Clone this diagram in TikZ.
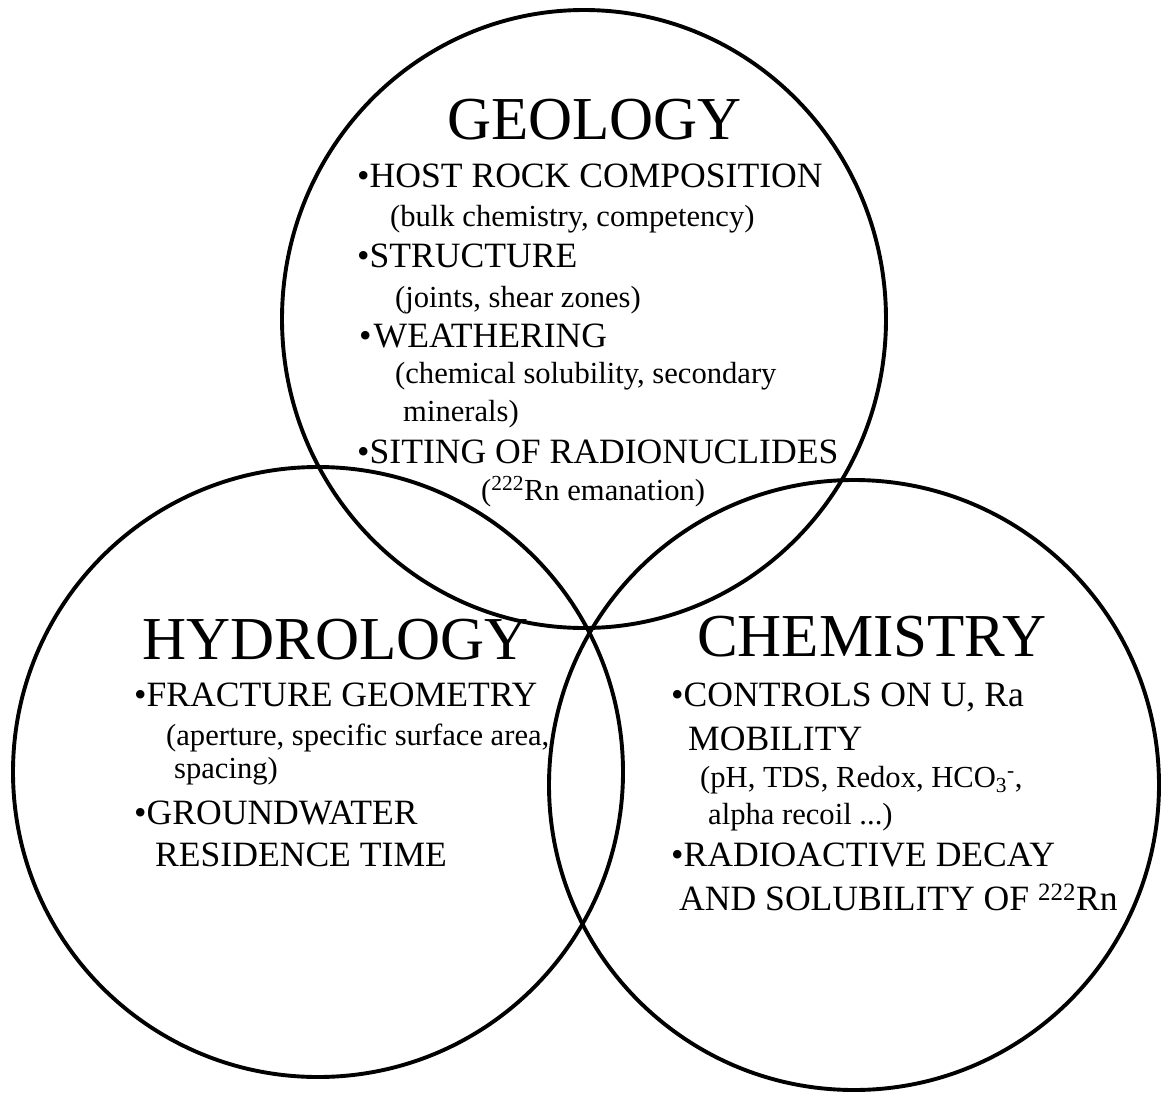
\documentclass[tikz,border=0pt]{standalone}
\usepackage{fontspec}
\setmainfont{Liberation Serif}
\usepackage{tikz}
\usetikzlibrary{positioning}

\begin{document}
\begin{tikzpicture}[x=1pt,y=-1pt,
    ring/.style={draw,line width=3.9pt},
    headtxt/.style={anchor=base west,inner sep=0pt,font=\fontsize{61}{61}\selectfont},
    itemtxt/.style={anchor=base west,inner sep=0pt,font=\fontsize{35.6}{36}\selectfont},
    subtxt/.style={anchor=base west,inner sep=0pt,font=\fontsize{30.6}{31}\selectfont}]
    \useasboundingbox (0,0) rectangle (1163,1093);
    % the three fields
    \coordinate (geoc) at (584,319);
    \coordinate (hydc) at (318,772);
    \coordinate (chec) at (854,785);
    \draw[ring] (geoc) ellipse [x radius=302pt,y radius=309pt];
    \draw[ring] (hydc) circle [radius=305pt];
    \draw[ring] (chec) circle [radius=305pt];
    % geology
    \node[headtxt] (geo) at (447,139) {GEOLOGY};
    \node[itemtxt] (geo1) at (357,187) {\textbullet HOST ROCK COMPOSITION};
    \node[subtxt] (geo1a) at (390,226) {(bulk chemistry, competency)};
    \node[itemtxt] (geo2) at (357,267) {\textbullet STRUCTURE};
    \node[subtxt] (geo2a) at (395,307) {(joints, shear zones)};
    \node[itemtxt] (geo3) at (359,347) {\textbullet\kern2pt WEATHERING};
    \node[subtxt] (geo3a) at (395,383) {(chemical solubility, secondary};
    \node[subtxt] (geo3b) at (403,421) {minerals)};
    \node[itemtxt] (geo4) at (357,463) {\textbullet SITING OF RADIONUCLIDES};
    \node[subtxt] (geo4a) at (481,500) {(\textsuperscript{222}Rn emanation)};
    % hydrology
    \node[headtxt] (hyd) at (142,659) {HYDROLOGY};
    \node[itemtxt] (hyd1) at (134,706) {\textbullet FRACTURE GEOMETRY};
    \node[subtxt] (hyd1a) at (166,745) {(aperture, specific surface area,};
    \node[subtxt] (hyd1b) at (174,778) {spacing)};
    \node[itemtxt] (hyd2) at (134,824) {\textbullet GROUNDWATER};
    \node[itemtxt] (hyd2a) at (155,866) {RESIDENCE TIME};
    % chemistry
    \node[headtxt] (che) at (697,656) {CHEMISTRY};
    \node[itemtxt] (che1) at (671,706) {\textbullet CONTROLS ON U, Ra};
    \node[itemtxt] (che1a) at (688,750) {MOBILITY};
    \node[subtxt] (che1b) at (700,787) {(pH, TDS, Redox, HCO\textsubscript{3}\textsuperscript{-},};
    \node[subtxt] (che1c) at (708,824) {alpha recoil ...)};
    \node[itemtxt] (che2) at (671,866) {\textbullet RADIOACTIVE DECAY};
    \node[itemtxt] (che2a) at (679,910) {AND SOLUBILITY OF \textsuperscript{222}Rn};
\end{tikzpicture}
\end{document}
